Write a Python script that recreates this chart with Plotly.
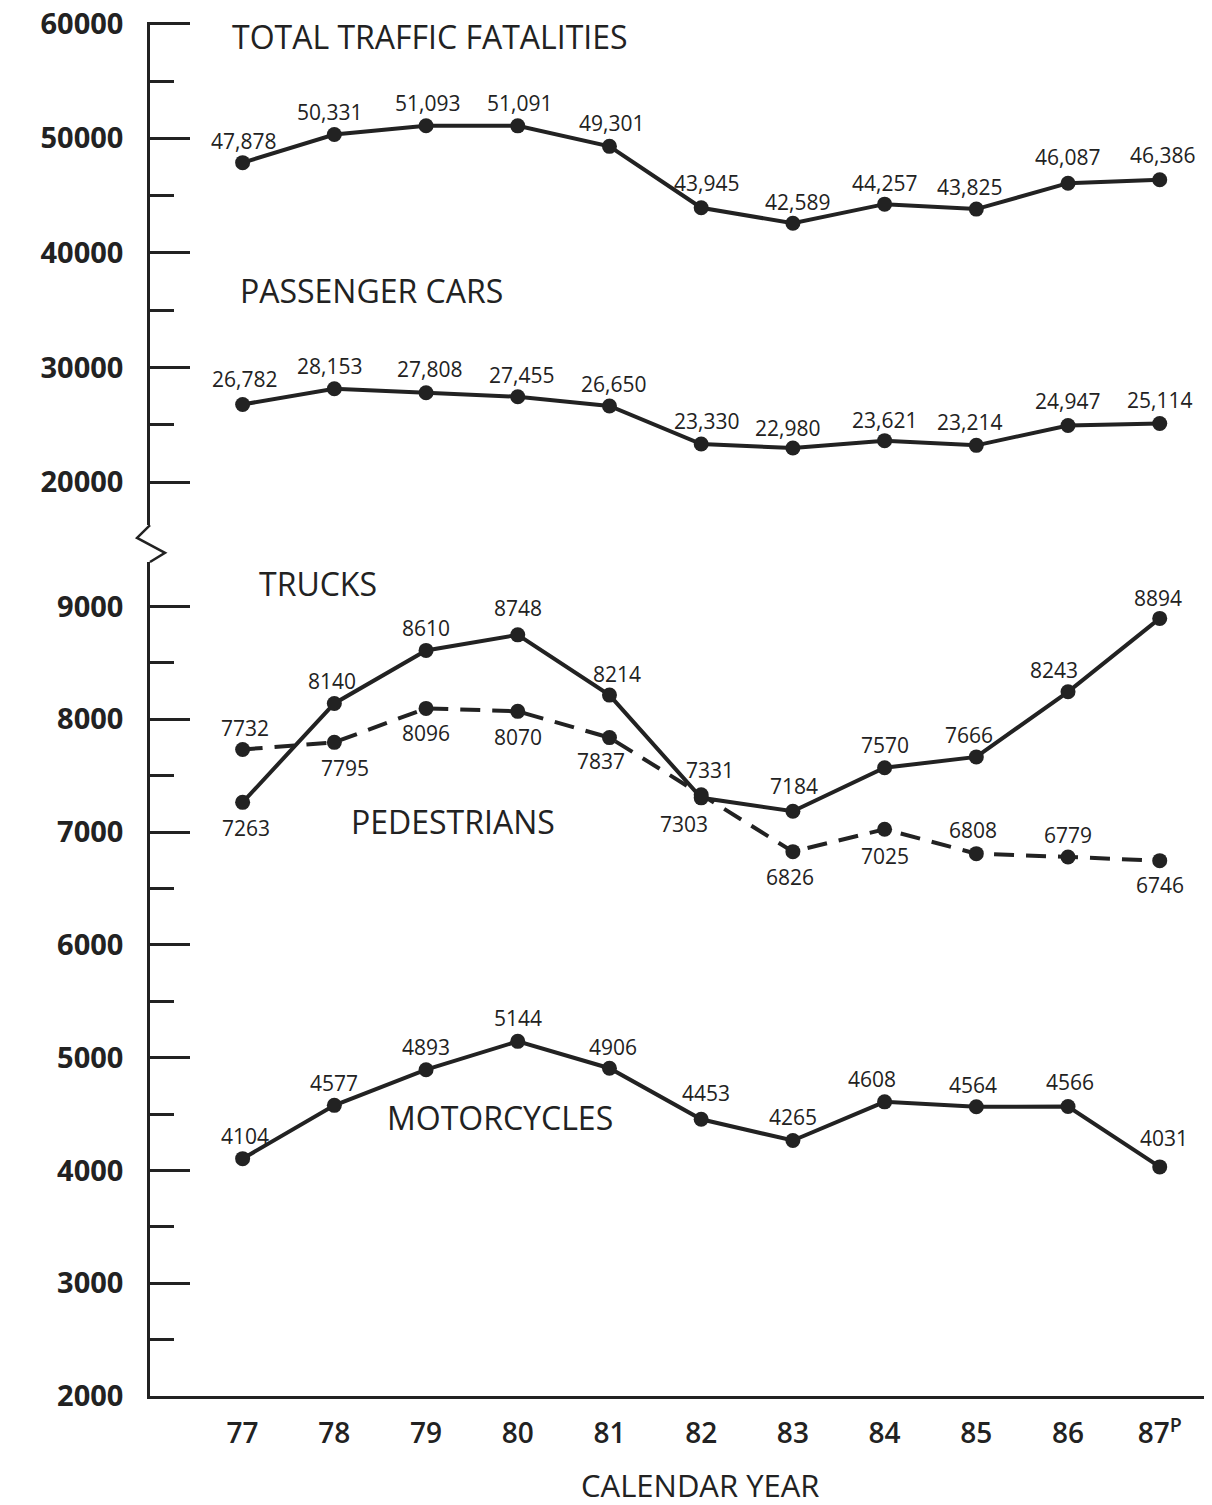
import plotly.graph_objects as go

# calendar years 1977-1987 (87 is preliminary)
years = [77, 78, 79, 80, 81, 82, 83, 84, 85, 86, 87]
year_labels = ["77", "78", "79", "80", "81", "82", "83", "84", "85", "86", "87<sup>P</sup>"]

total_fatalities = [47878, 50331, 51093, 51091, 49301, 43945, 42589, 44257, 43825, 46087, 46386]
passenger_cars = [26782, 28153, 27808, 27455, 26650, 23330, 22980, 23621, 23214, 24947, 25114]
trucks = [7263, 8140, 8610, 8748, 8214, 7303, 7184, 7570, 7666, 8243, 8894]
pedestrians = [7732, 7795, 8096, 8070, 7837, 7331, 6826, 7025, 6808, 6779, 6746]
motorcycles = [4104, 4577, 4893, 5144, 4906, 4453, 4265, 4608, 4564, 4566, 4031]

top_ticks = [20000, 30000, 40000, 50000, 60000]
bottom_ticks = [2000, 3000, 4000, 5000, 6000, 7000, 8000, 9000]

INK = "#222222"
FONT = "Open Sans"

# label offsets in pixels (dx, dy) relative to each point, screen-down positive
off_total = [(1, -22), (-5, -23), (1, -23), (2, -23), (2, -23), (5, -25),
             (5, -21), (0, -21), (-7, -22), (-1, -26), (3, -25)]
off_cars = [(2, -25), (-5, -23), (3, -24), (4, -22), (4, -22), (5, -23),
            (-5, -20), (0, -21), (-7, -23), (-1, -24), (0, -24)]
off_trucks = [(3, 26), (-2, -22), (0, -22), (0, -27), (8, -21), (-17, 26),
              (1, -25), (0, -23), (-7, -22), (-14, -22), (-2, -20)]
off_peds = [(2, -21), (11, 26), (0, 25), (0, 26), (-8, 23), (9, -25),
            (-3, 25), (0, 27), (-3, -24), (0, -22), (0, 24)]
off_moto = [(2, -23), (0, -22), (0, -23), (0, -23), (4, -21), (5, -26),
            (0, -24), (-13, -23), (-3, -22), (2, -25), (4, -29)]

fig = go.Figure()

def add_series(vals, yax, dash, offsets, comma):
    fig.add_trace(go.Scatter(
        x=years, y=vals, xaxis="x", yaxis=yax, mode="lines+markers",
        line=dict(color=INK, width=4, dash=dash),
        marker=dict(color=INK, size=15),
        showlegend=False, cliponaxis=False,
    ))
    for xv, yv, (dx, dy) in zip(years, vals, offsets):
        txt = f"{yv:,}" if comma else str(yv)
        fig.add_annotation(
            x=xv, y=yv, xref="x", yref=yax, text=txt, showarrow=False,
            xshift=dx, yshift=-dy,
            font=dict(family=FONT, size=21, color=INK),
        )

add_series(total_fatalities, "y2", "solid", off_total, True)
add_series(passenger_cars, "y2", "solid", off_cars, True)
add_series(trucks, "y", "solid", off_trucks, False)
add_series(pedestrians, "y", "20px,12px", off_peds, False)
add_series(motorcycles, "y", "solid", off_moto, False)

# series names
names = [
    ("TOTAL TRAFFIC FATALITIES", 76.86, 58870, "y2"),
    ("PASSENGER CARS", 76.95, 36700, "y2"),
    ("TRUCKS", 77.16, 9207, "y"),
    ("PEDESTRIANS", 78.16, 7089, "y"),
    ("MOTORCYCLES", 78.55, 4473, "y"),
]
for txt, xv, yv, yr in names:
    fig.add_annotation(x=xv, y=yv, xref="x", yref=yr, text=txt, showarrow=False,
                       xanchor="left", yanchor="middle",
                       font=dict(family=FONT, size=32, color=INK))

fig.add_annotation(x=0.518, y=-0.0645, xref="paper", yref="paper", text="CALENDAR YEAR",
                   showarrow=False, xanchor="center", yanchor="middle",
                   font=dict(family=FONT, size=31, color=INK))

# axis break zigzag
fig.add_shape(type="path", xref="paper", yref="paper",
              path="M 0,0.6339 L -0.0122,0.6245 L 0.0141,0.6136 L 0,0.607",
              line=dict(color=INK, width=2.5))

axis_common = dict(
    showline=True, linecolor=INK, linewidth=2.5, showgrid=False, zeroline=False,
    ticks="inside", ticklen=40, tickwidth=2.5, tickcolor=INK,
    ticklabelstandoff=18, ticklabeloverflow="allow", automargin=False,
    tickfont=dict(family=FONT, size=29, color=INK, weight=700),
)

# page body has an 8px margin, so the figure is sized and placed to land on the window
fig.update_layout(
    width=1204, height=1497,
    margin=dict(l=142, r=0, t=14, b=109),
    paper_bgcolor="white", plot_bgcolor="white",
    showlegend=False,
    xaxis=dict(
        range=[75.99, 87.57], showline=True, linecolor=INK, linewidth=2.5,
        showgrid=False, zeroline=False, ticks="", anchor="y", automargin=False,
        tickvals=years, ticktext=year_labels, ticklabelstandoff=11,
        tickfont=dict(family=FONT, size=28, color=INK, weight=600),
    ),
    yaxis=dict(
        domain=[0, 0.607], range=[2000, 9394], anchor="x",
        tickvals=bottom_ticks, ticktext=[str(v) for v in bottom_ticks],
        minor=dict(ticks="inside", ticklen=24, tickwidth=2.5, tickcolor=INK, dtick=500, tick0=0),
        **axis_common,
    ),
    yaxis2=dict(
        domain=[0.6339, 1], range=[16261, 60150], anchor="x",
        tickvals=top_ticks, ticktext=[str(v) for v in top_ticks],
        minor=dict(ticks="inside", ticklen=24, tickwidth=2.5, tickcolor=INK, dtick=5000, tick0=0),
        **axis_common,
    ),
)

fig.write_html("out.html")
